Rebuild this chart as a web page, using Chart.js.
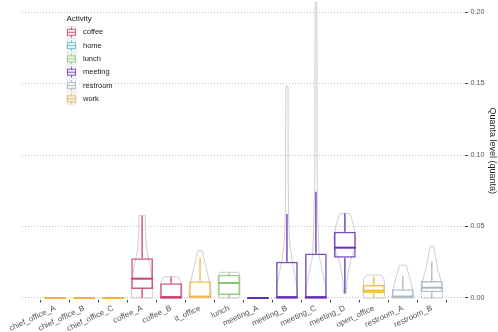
<!DOCTYPE html>
<html lang="en">
  <head>
    <meta charset="utf-8" />
    <title>Quanta level by location</title>
    <script src="https://cdn.jsdelivr.net/npm/chart.js@4.4.1/dist/chart.umd.min.js"></script>
    <style>
      html,
      body {
        margin: 0;
        padding: 0;
        background: #fff;
      }
    </style>
  </head>
  <body>
    <canvas id="chart" width="498" height="332"></canvas>
    <script>
      // locations on the x axis and the activity each one belongs to
      const locations = ["chief_office_A", "chief_office_B", "chief_office_C", "coffee_A", "coffee_B", "it_office", "lunch", "meeting_A", "meeting_B", "meeting_C", "meeting_D", "open_office", "restroom_A", "restroom_B"];
      const locationActivity = ["work", "work", "work", "coffee", "coffee", "work", "lunch", "meeting", "meeting", "meeting", "meeting", "work", "restroom", "restroom"];

      // box plot statistics (quanta)
      const whiskerLow = [0, 0, 0, 0, 0, 0, 0, 0, 0, 0, 0.0033, 0, 0, 0];
      const q1 = [0, 0, 0, 0.0063, 0, 0, 0.0021, 0, 0, 0, 0.0282, 0.0033, 0, 0.004];
      const median = [0, 0, 0, 0.0135, 0.0003, 0.001, 0.0105, 0, 0.0003, 0.0003, 0.0352, 0.0051, 0.001, 0.0072];
      const q3 = [0, 0, 0, 0.0278, 0.0103, 0.0117, 0.0163, 0, 0.0254, 0.0312, 0.0464, 0.0091, 0.0061, 0.0119];
      const whiskerHigh = [0, 0, 0, 0.0576, 0.0149, 0.0285, 0.0177, 0, 0.0587, 0.0743, 0.0592, 0.0149, 0.0154, 0.0254];

      // violin outlines: [quanta level, relative density width], top to bottom
      const violins = [
        [],
        [],
        [],
        [[0.0576, 0.3], [0.045, 0.3], [0.035, 0.4], [0.025, 0.65], [0.015, 0.9], [0.008, 1], [0, 0.95]],
        [[0.0149, 0.65], [0.011, 0.95], [0.005, 1], [0, 1]],
        [[0.033, 0.2], [0.028, 0.35], [0.02, 0.6], [0.012, 0.85], [0.005, 1], [0, 1]],
        [[0.018, 0.85], [0.016, 1], [0.003, 1], [0, 0.9]],
        [],
        [[0.148, 0.1], [0.08, 0.12], [0.06, 0.15], [0.045, 0.2], [0.035, 0.3], [0.025, 0.5], [0.015, 0.75], [0.008, 0.95], [0, 1]],
        [[0.207, 0.08], [0.1, 0.1], [0.075, 0.12], [0.05, 0.2], [0.03, 0.3], [0.02, 0.55], [0.01, 0.85], [0, 1]],
        [[0.0592, 0.45], [0.05, 0.85], [0.042, 1], [0.035, 0.95], [0.028, 0.6], [0.02, 0.35], [0.012, 0.2], [0.003, 0.12]],
        [[0.016, 0.7], [0.013, 0.95], [0.005, 1], [0, 0.95]],
        [[0.023, 0.3], [0.015, 0.6], [0.008, 0.85], [0, 1]],
        [[0.036, 0.15], [0.03, 0.3], [0.02, 0.55], [0.012, 0.85], [0.005, 1], [0, 0.95]]
      ];

      const yTicks = [0, 0.05, 0.1, 0.15, 0.2];
      const activities = ["coffee", "home", "lunch", "meeting", "restroom", "work"];
      const activityColors = ["#c8416c", "#4dbdd0", "#85c66f", "#6431b4", "#a9b6c5", "#f5b43f"];

      const FONT = "'Liberation Sans', Arial, sans-serif";
      const BOX_WIDTH = 0.75;

      const colorOf = (act) => activityColors[activities.indexOf(act)];
      const withAlpha = (hex, a) => {
        const n = parseInt(hex.slice(1), 16);
        return `rgba(${n >> 16},${(n >> 8) & 255},${n & 255},${a})`;
      };

      // violins behind, whiskers + medians on top of the box bars, legend last
      const boxPlotExtras = {
        id: "boxPlotExtras",
        beforeDatasetsDraw(chart) {
          const { ctx, chartArea, scales: { x, y } } = chart;
          const half = (x.getPixelForValue(1) - x.getPixelForValue(0)) * BOX_WIDTH / 2;
          ctx.save();
          ctx.beginPath();
          ctx.rect(chartArea.left, chartArea.top, chartArea.width, chartArea.height);
          ctx.clip();
          ctx.strokeStyle = "rgba(180,180,180,0.65)";
          ctx.lineWidth = 1;
          violins.forEach((shape, i) => {
            if (!shape.length) return;
            const cx = x.getPixelForValue(i);
            ctx.beginPath();
            shape.forEach(([v, w], k) => {
              const px = cx - w * half, py = y.getPixelForValue(v);
              if (k) ctx.lineTo(px, py); else ctx.moveTo(px, py);
            });
            for (let k = shape.length - 1; k >= 0; k--) {
              ctx.lineTo(cx + shape[k][1] * half, y.getPixelForValue(shape[k][0]));
            }
            ctx.closePath();
            ctx.stroke();
          });
          ctx.restore();
        },
        afterDatasetsDraw(chart) {
          const { ctx, scales: { x, y } } = chart;
          const half = (x.getPixelForValue(1) - x.getPixelForValue(0)) * BOX_WIDTH / 2;
          ctx.save();
          locations.forEach((_, i) => {
            const cx = x.getPixelForValue(i);
            const col = colorOf(locationActivity[i]);
            ctx.strokeStyle = col;
            ctx.lineWidth = 1.3;
            ctx.beginPath();
            ctx.moveTo(cx, y.getPixelForValue(q3[i]));
            ctx.lineTo(cx, y.getPixelForValue(whiskerHigh[i]));
            ctx.moveTo(cx, y.getPixelForValue(q1[i]));
            ctx.lineTo(cx, y.getPixelForValue(whiskerLow[i]));
            ctx.stroke();
            ctx.lineWidth = 2;
            ctx.beginPath();
            const my = y.getPixelForValue(median[i]);
            ctx.moveTo(cx - half, my);
            ctx.lineTo(cx + half, my);
            ctx.stroke();
          });
          ctx.restore();
        },
        afterDraw(chart) {
          const { ctx } = chart;
          const left = 66, top = 19, step = 13.3;
          ctx.save();
          ctx.textBaseline = "middle";
          ctx.textAlign = "left";
          ctx.fillStyle = "#1a1a1a";
          ctx.font = `8px ${FONT}`;
          ctx.fillText("Activity", left + 0.5, top);
          ctx.fillStyle = "#f2f2f2";
          ctx.fillRect(left, top + 7, 11, step * activities.length);
          activities.forEach((name, k) => {
            const cy = top + 13.3 + k * step;
            const cx = left + 5.5;
            const col = activityColors[k];
            ctx.strokeStyle = withAlpha(col, 0.8);
            ctx.lineWidth = 1;
            ctx.strokeRect(cx - 4, cy - 3, 8, 6);
            ctx.beginPath();
            ctx.moveTo(cx - 4, cy);
            ctx.lineTo(cx + 4, cy);
            ctx.moveTo(cx, cy - 3);
            ctx.lineTo(cx, cy - 5.5);
            ctx.moveTo(cx, cy + 3);
            ctx.lineTo(cx, cy + 5.5);
            ctx.stroke();
            ctx.fillStyle = "#1a1a1a";
            ctx.font = `7.5px ${FONT}`;
            ctx.fillText(name, left + 17, cy);
          });
          ctx.restore();
        }
      };

      new Chart(document.getElementById("chart"), {
        type: "bar",
        data: {
          datasets: [
            {
              data: locations.map((_, i) => ({ x: i, y: [q1[i], q3[i]] })),
              borderColor: locationActivity.map((a) => withAlpha(colorOf(a), 0.85)),
              backgroundColor: "rgba(255,255,255,0.1)",
              borderWidth: 1.5,
              borderSkipped: false,
              categoryPercentage: 1,
              barPercentage: BOX_WIDTH
            }
          ]
        },
        options: {
          responsive: false,
          animation: false,
          layout: { padding: { left: 22, top: 2, right: 0, bottom: 0 } },
          plugins: { legend: { display: false }, tooltip: { enabled: false } },
          scales: {
            x: {
              type: "linear",
              min: -0.6,
              max: locations.length - 0.4,
              afterBuildTicks: (s) => {
                s.ticks = locations.map((_, i) => ({ value: i }));
              },
              afterFit: (s) => {
                s.height = 32.5;
                s.paddingLeft = 0;
                s.paddingRight = 0;
              },
              ticks: {
                autoSkip: false,
                minRotation: 25,
                maxRotation: 25,
                padding: 1,
                color: "#555",
                font: { family: FONT, size: 8 },
                callback: (v) => locations[v]
              },
              grid: { drawOnChartArea: false, drawTicks: true, tickLength: 3, tickColor: "#444" },
              border: { display: false }
            },
            y: {
              position: "right",
              min: -0.00105,
              max: 0.207,
              afterBuildTicks: (s) => {
                s.ticks = yTicks.map((v) => ({ value: v }));
              },
              afterFit: (s) => {
                s.width = 33;
                s.paddingTop = 0;
                s.paddingBottom = 0;
              },
              ticks: {
                padding: 2.5,
                color: "#555",
                font: { family: FONT, size: 7.2 },
                callback: (v) => v.toFixed(2)
              },
              grid: { color: "#c4c4c4", lineWidth: 1, tickLength: 3, tickColor: "#444", tickBorderDash: [] },
              border: { display: false, dash: [1, 2] },
              title: {
                display: true,
                text: "Quanta level (quanta)",
                color: "#1a1a1a",
                font: { family: FONT, size: 9 },
                padding: { top: 0, bottom: 0 }
              }
            }
          }
        },
        plugins: [boxPlotExtras]
      });
    </script>
  </body>
</html>
